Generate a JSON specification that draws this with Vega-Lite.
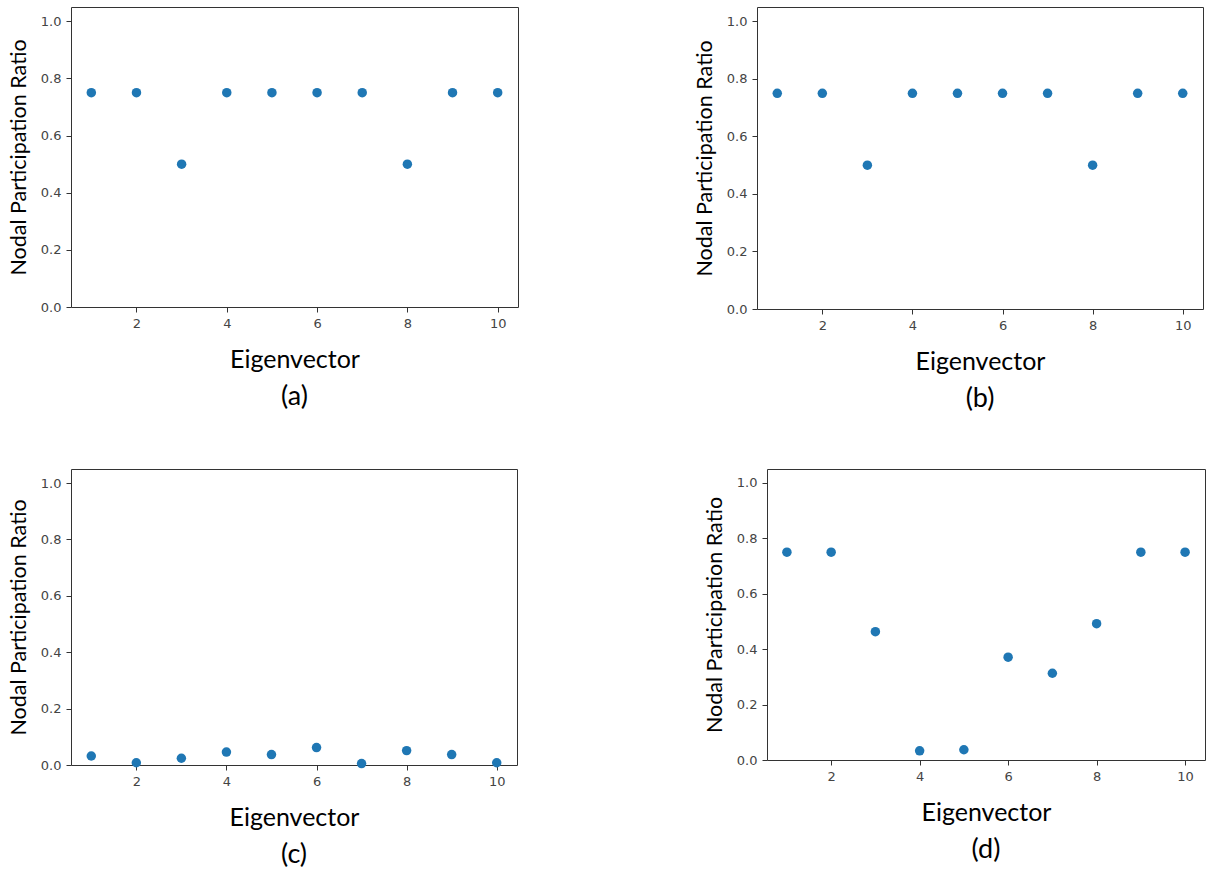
{
  "$schema": "https://vega.github.io/schema/vega-lite/v6.json",
  "background": "white",
  "padding": {"left": 7, "top": 6, "right": 5, "bottom": 5},
  "datasets": {
    "a": [
      {"eigenvector": 1, "ratio": 0.75}, {"eigenvector": 2, "ratio": 0.75},
      {"eigenvector": 3, "ratio": 0.5}, {"eigenvector": 4, "ratio": 0.75},
      {"eigenvector": 5, "ratio": 0.75}, {"eigenvector": 6, "ratio": 0.75},
      {"eigenvector": 7, "ratio": 0.75}, {"eigenvector": 8, "ratio": 0.5},
      {"eigenvector": 9, "ratio": 0.75}, {"eigenvector": 10, "ratio": 0.75}
    ],
    "b": [
      {"eigenvector": 1, "ratio": 0.75}, {"eigenvector": 2, "ratio": 0.75},
      {"eigenvector": 3, "ratio": 0.5}, {"eigenvector": 4, "ratio": 0.75},
      {"eigenvector": 5, "ratio": 0.75}, {"eigenvector": 6, "ratio": 0.75},
      {"eigenvector": 7, "ratio": 0.75}, {"eigenvector": 8, "ratio": 0.5},
      {"eigenvector": 9, "ratio": 0.75}, {"eigenvector": 10, "ratio": 0.75}
    ],
    "c": [
      {"eigenvector": 1, "ratio": 0.032}, {"eigenvector": 2, "ratio": 0.008},
      {"eigenvector": 3, "ratio": 0.024}, {"eigenvector": 4, "ratio": 0.046},
      {"eigenvector": 5, "ratio": 0.037}, {"eigenvector": 6, "ratio": 0.062},
      {"eigenvector": 7, "ratio": 0.005}, {"eigenvector": 8, "ratio": 0.051},
      {"eigenvector": 9, "ratio": 0.037}, {"eigenvector": 10, "ratio": 0.008}
    ],
    "d": [
      {"eigenvector": 1, "ratio": 0.75}, {"eigenvector": 2, "ratio": 0.75},
      {"eigenvector": 3, "ratio": 0.463}, {"eigenvector": 4, "ratio": 0.033},
      {"eigenvector": 5, "ratio": 0.037}, {"eigenvector": 6, "ratio": 0.371},
      {"eigenvector": 7, "ratio": 0.313}, {"eigenvector": 8, "ratio": 0.492},
      {"eigenvector": 9, "ratio": 0.75}, {"eigenvector": 10, "ratio": 0.75}
    ]
  },
  "vconcat": [
    {
      "spacing": 174,
      "hconcat": [
        {
          "data": {"name": "a"},
          "width": 447, "height": 300,
          "title": "(a)",
          "mark": "point",
          "encoding": {
            "x": {"field": "eigenvector", "type": "quantitative",
                  "scale": {"domain": [0.55, 10.45], "nice": false, "zero": false},
                  "axis": {"values": [2, 4, 6, 8, 10], "title": "Eigenvector"}},
            "y": {"field": "ratio", "type": "quantitative",
                  "scale": {"domain": [0, 1.05], "nice": false},
                  "axis": {"values": [0, 0.2, 0.4, 0.6, 0.8, 1.0], "format": ".1f", "title": "Nodal Participation Ratio"}}
          }
        },
        {
          "data": {"name": "b"},
          "width": 446, "height": 302,
          "title": "(b)",
          "mark": "point",
          "encoding": {
            "x": {"field": "eigenvector", "type": "quantitative",
                  "scale": {"domain": [0.55, 10.45], "nice": false, "zero": false},
                  "axis": {"values": [2, 4, 6, 8, 10], "title": "Eigenvector"}},
            "y": {"field": "ratio", "type": "quantitative",
                  "scale": {"domain": [0, 1.05], "nice": false},
                  "axis": {"values": [0, 0.2, 0.4, 0.6, 0.8, 1.0], "format": ".1f", "title": "Nodal Participation Ratio"}}
          }
        }
      ]
    },
    {
      "spacing": 185,
      "hconcat": [
        {
          "data": {"name": "c"},
          "width": 446, "height": 296,
          "title": "(c)",
          "mark": "point",
          "encoding": {
            "x": {"field": "eigenvector", "type": "quantitative",
                  "scale": {"domain": [0.55, 10.45], "nice": false, "zero": false},
                  "axis": {"values": [2, 4, 6, 8, 10], "title": "Eigenvector"}},
            "y": {"field": "ratio", "type": "quantitative",
                  "scale": {"domain": [0, 1.05], "nice": false},
                  "axis": {"values": [0, 0.2, 0.4, 0.6, 0.8, 1.0], "format": ".1f", "title": "Nodal Participation Ratio"}}
          }
        },
        {
          "data": {"name": "d"},
          "width": 438, "height": 291,
          "title": "(d)",
          "mark": "point",
          "encoding": {
            "x": {"field": "eigenvector", "type": "quantitative",
                  "scale": {"domain": [0.55, 10.45], "nice": false, "zero": false},
                  "axis": {"values": [2, 4, 6, 8, 10], "title": "Eigenvector"}},
            "y": {"field": "ratio", "type": "quantitative",
                  "scale": {"domain": [0, 1.05], "nice": false},
                  "axis": {"values": [0, 0.2, 0.4, 0.6, 0.8, 1.0], "format": ".1f", "title": "Nodal Participation Ratio"}}
          }
        }
      ]
    }
  ],
  "spacing": 55,
  "config": {
    "view": {"stroke": "#333333", "strokeWidth": 1},
    "axis": {
      "domain": false, "grid": false,
      "tickColor": "#333333", "tickSize": 5, "tickWidth": 1,
      "labelFont": "DejaVu Sans", "labelFontSize": 13, "labelColor": "#444444", "labelPadding": 5,
      "titleFont": "Lato", "titleFontWeight": "normal", "titleColor": "#000000"
    },
    "axisX": {"titleFontSize": 25, "titlePadding": 17},
    "axisY": {"titleFontSize": 21.5, "titlePadding": 10},
    "title": {"orient": "bottom", "anchor": "middle", "font": "Lato", "fontSize": 27, "fontWeight": "normal", "color": "#000000", "offset": 12},
    "point": {"filled": true, "size": 90, "color": "#1f77b4", "opacity": 1}
  }
}
